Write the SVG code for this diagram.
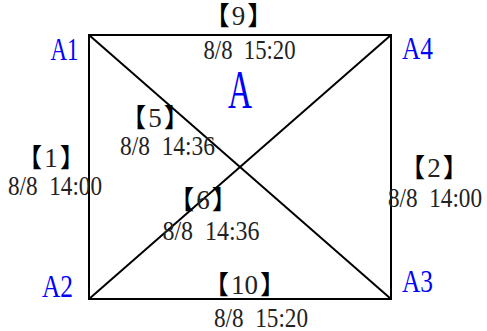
<svg xmlns="http://www.w3.org/2000/svg" width="487" height="331" viewBox="0 0 487 331">
<style>
.ln{stroke:#000;stroke-width:2;fill:none}
.dt{font-family:"Liberation Serif",serif;font-size:28px;fill:#222;text-anchor:middle;white-space:pre}
.br{font-family:"Liberation Serif","Noto Sans CJK TC",serif;font-size:27px;fill:#222;text-anchor:middle}
.bk{font-family:"Noto Sans CJK TC",sans-serif;font-size:26px;fill:#000}
.cn{font-family:"Liberation Serif",serif;font-size:31px;fill:#0000ff;text-anchor:middle}
.big{font-family:"Liberation Serif",serif;font-size:54px;fill:#0000ff;text-anchor:middle}
</style>
<rect width="487" height="331" fill="#fff"/>
<g id="connectors">
<path class="ln" d="M89,35 L391,35 L391,299 L89,299 Z"/>
<path class="ln" d="M89,35 L391,299"/>
<path class="ln" d="M391,35 L89,299"/>
</g>
<g id="A1"><text class="cn" x="64.5" y="60" textLength="28" lengthAdjust="spacingAndGlyphs">A1</text></g>
<g id="A4"><text class="cn" x="417.5" y="59" textLength="31" lengthAdjust="spacingAndGlyphs">A4</text></g>
<g id="A2"><text class="cn" x="57.5" y="297" textLength="31" lengthAdjust="spacingAndGlyphs">A2</text></g>
<g id="A3"><text class="cn" x="417.5" y="292" textLength="31" lengthAdjust="spacingAndGlyphs">A3</text></g>
<g id="A"><text class="big" x="240" y="108" textLength="24" lengthAdjust="spacingAndGlyphs">A</text></g>
<g id="e9">
<text class="br" x="238.5" y="25"><tspan class="bk">【</tspan><tspan dx="2">9</tspan><tspan class="bk" dx="2">】</tspan></text>
<text class="dt" x="249.5" y="59" textLength="92" lengthAdjust="spacingAndGlyphs">8/8  15:20</text>
</g>
<g id="e5">
<text class="br" x="155" y="127"><tspan class="bk">【</tspan><tspan dx="2">5</tspan><tspan class="bk" dx="2">】</tspan></text>
<text class="dt" x="167.5" y="155" textLength="95" lengthAdjust="spacingAndGlyphs">8/8  14:36</text>
</g>
<g id="e1">
<text class="br" x="51" y="167"><tspan class="bk">【</tspan><tspan dx="2">1</tspan><tspan class="bk" dx="2">】</tspan></text>
<text class="dt" x="55" y="195" textLength="94" lengthAdjust="spacingAndGlyphs">8/8  14:00</text>
</g>
<g id="e6">
<text class="br" x="203" y="209"><tspan class="bk">【</tspan><tspan dx="2">6</tspan><tspan class="bk" dx="2">】</tspan></text>
<text class="dt" x="211" y="240" textLength="97" lengthAdjust="spacingAndGlyphs">8/8  14:36</text>
</g>
<g id="e2">
<text class="br" x="434" y="177"><tspan class="bk">【</tspan><tspan dx="2">2</tspan><tspan class="bk" dx="2">】</tspan></text>
<text class="dt" x="435" y="207" textLength="94" lengthAdjust="spacingAndGlyphs">8/8  14:00</text>
</g>
<g id="e10">
<text class="br" x="244.5" y="294"><tspan class="bk">【</tspan><tspan dx="2">10</tspan><tspan class="bk" dx="2">】</tspan></text>
<text class="dt" x="261" y="327" textLength="94" lengthAdjust="spacingAndGlyphs">8/8  15:20</text>
</g>
</svg>
